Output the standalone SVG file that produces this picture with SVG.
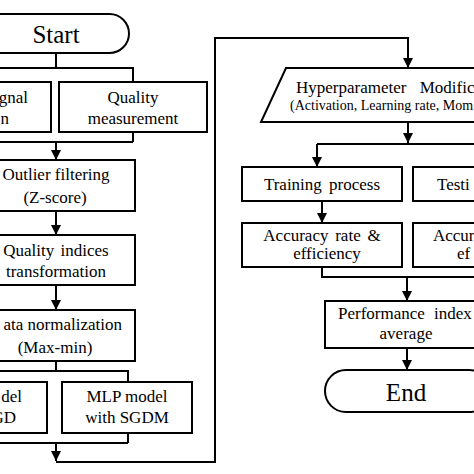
<svg xmlns="http://www.w3.org/2000/svg" width="474" height="474" viewBox="0 0 474 474">
<defs>
<marker id="ah" markerUnits="userSpaceOnUse" markerWidth="10" markerHeight="12" refX="10" refY="5" orient="auto">
<path d="M0,0 L10,5 L0,10 Z" fill="#000"/>
</marker>
<style>
.box{fill:#fff;stroke:#000;stroke-width:2}
.ln{fill:none;stroke:#000;stroke-width:2}
.ar{fill:none;stroke:#000;stroke-width:2;marker-end:url(#ah)}
text{font-family:"Liberation Serif","Times New Roman",serif;fill:#000;font-size:17px}
.c{text-anchor:middle}
.e{text-anchor:end}
.big{font-size:25px}
.sm{font-size:14px}
</style>
</defs>
<rect width="474" height="474" fill="#fff"/>
<g id="connectors">
<path class="ln" d="M56,53 V68 M-5,68 H133 V82"/>
<path class="ln" d="M133,132 V142 M-5,142 H133"/>
<path class="ar" d="M56,142 V160"/>
<path class="ar" d="M56,211 V235"/>
<path class="ar" d="M56,285 V310"/>
<path class="ln" d="M56,361 V371 M-5,371 H128 V382"/>
<path class="ln" d="M128,433 V443 M-5,443 H128"/>
<path class="ar" d="M56,443 V461"/>
<path class="ar" d="M56,462 H215 V38 H408 V68"/>
<path class="ar" d="M408,122 V143"/>
<path class="ln" d="M317,144 H480"/>
<path class="ar" d="M317,144 V167"/>
<path class="ar" d="M322,201 V223"/>
<path class="ln" d="M322,267 V277 H480"/>
<path class="ar" d="M407,277 V301"/>
<path class="ar" d="M407,348 V370"/>
</g>
<g id="start">
<rect class="box" x="-18" y="14" width="147" height="39" rx="19.5"/>
<text class="c big" x="56" y="43">Start</text>
</g>
<g id="signal">
<rect class="box" x="-100" y="82" width="151" height="50"/>
<text class="e" x="28" y="103">gnal</text>
<text class="e" x="9" y="124">n</text>
</g>
<g id="quality">
<rect class="box" x="59" y="82" width="148" height="50"/>
<text class="c" x="133" y="103">Quality</text>
<text class="c" x="133" y="124">measurement</text>
</g>
<g id="outlier">
<rect class="box" x="-25" y="160" width="160" height="51"/>
<text class="c" x="56" y="180">Outlier filtering</text>
<text class="c" x="55" y="203">(Z-score)</text>
</g>
<g id="indices">
<rect class="box" x="-25" y="235" width="160" height="50"/>
<text class="c" x="56" y="256" word-spacing="2">Quality indices</text>
<text class="c" x="56" y="277">transformation</text>
</g>
<g id="normalization">
<rect class="box" x="-25" y="310" width="160" height="51"/>
<text class="e" x="122" y="330">ata normalization</text>
<text class="c" x="55" y="353">(Max-min)</text>
</g>
<g id="sgd">
<rect class="box" x="-100" y="382" width="147" height="51"/>
<text class="e" x="22" y="402">del</text>
<text class="e" x="16" y="423">GD</text>
</g>
<g id="sgdm">
<rect class="box" x="62" y="382" width="130" height="51"/>
<text class="c" x="127" y="402">MLP model</text>
<text class="c" x="127" y="423">with SGDM</text>
</g>
<g id="hyper">
<polygon class="box" points="286,68 600,68 575,122 261,122"/>
<text x="296" y="93" word-spacing="9">Hyperparameter Modific</text>
<text class="sm" x="290" y="110">(Activation, Learning rate, Mom</text>
</g>
<g id="training">
<rect class="box" x="242" y="167" width="160" height="34"/>
<text class="c" x="322" y="190" word-spacing="3">Training process</text>
</g>
<g id="testing">
<rect class="box" x="413" y="167" width="160" height="34"/>
<text x="437" y="190">Testi</text>
</g>
<g id="acc1">
<rect class="box" x="242" y="223" width="160" height="44"/>
<text class="c" x="322" y="241" word-spacing="2.5">Accuracy rate &amp;</text>
<text class="c" x="327" y="259">efficiency</text>
</g>
<g id="acc2">
<rect class="box" x="413" y="223" width="160" height="44"/>
<text x="433" y="241">Accur</text>
<text x="457" y="259">ef</text>
</g>
<g id="perf">
<rect class="box" x="325" y="301" width="165" height="47"/>
<text x="338" y="319" word-spacing="5">Performance index</text>
<text class="c" x="406" y="339">average</text>
</g>
<g id="end">
<rect class="box" x="325" y="370" width="165" height="42" rx="21"/>
<text class="c big" x="406" y="401">End</text>
</g>
</svg>
